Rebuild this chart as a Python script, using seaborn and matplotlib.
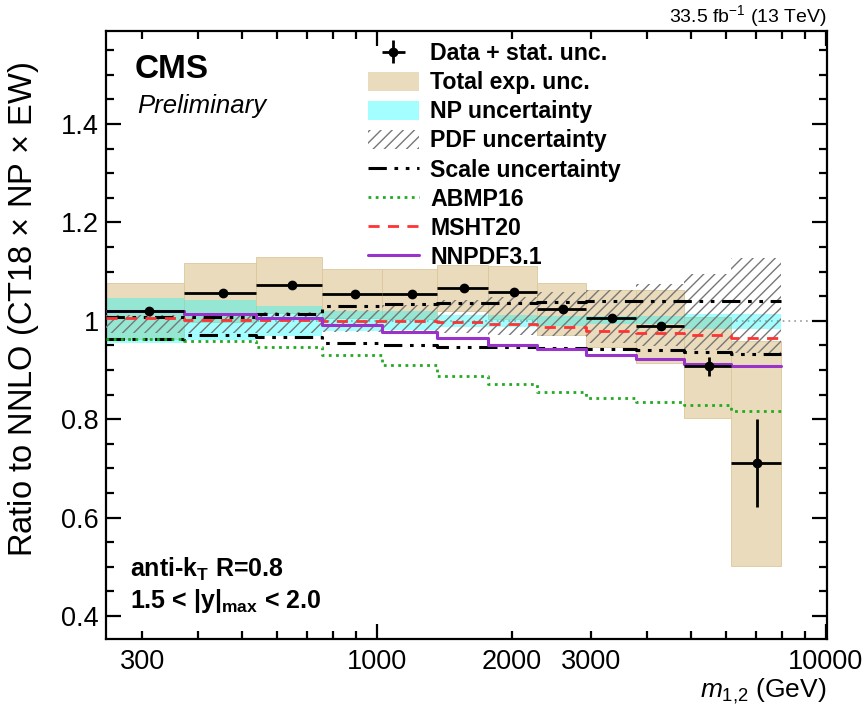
import numpy as np
import pandas as pd
import matplotlib
matplotlib.use("Agg")
import matplotlib.pyplot as plt
import seaborn as sns
from matplotlib.ticker import FixedLocator, FuncFormatter, MultipleLocator
from matplotlib.lines import Line2D
from matplotlib.patches import Patch

# ---------------- data ----------------
edges = [249, 372, 539, 756, 1029, 1361, 1769, 2273, 2920, 3770, 4830, 6150, 7940]
data = [1.020, 1.057, 1.072, 1.055, 1.054, 1.067, 1.058, 1.024, 1.005, 0.989, 0.907, 0.711]
stat = [0.003, 0.003, 0.004, 0.007, 0.008, 0.004, 0.004, 0.004, 0.005, 0.006, 0.020, 0.089]
tot_lo = [0.963, 0.997, 1.015, 1.005, 1.003, 1.020, 1.004, 0.971, 0.946, 0.915, 0.803, 0.501]
tot_hi = [1.077, 1.117, 1.129, 1.105, 1.105, 1.113, 1.111, 1.076, 1.062, 1.062, 1.008, 0.959]
np_lo = [0.954, 0.961, 0.969, 0.980, 0.981, 0.987, 0.988, 0.990, 0.993, 0.993, 0.983, 0.983]
np_hi = [1.047, 1.042, 1.030, 1.020, 1.020, 1.012, 1.012, 1.010, 1.010, 1.010, 1.014, 1.014]
pdf_lo = [0.975, 0.975, 0.975, 0.978, 0.978, 0.976, 0.972, 0.968, 0.955, 0.948, 0.940, 0.934]
pdf_hi = [1.012, 1.013, 1.018, 1.022, 1.033, 1.042, 1.049, 1.059, 1.063, 1.074, 1.095, 1.128]
scale_up = [1.008, 1.007, 1.014, 1.030, 1.035, 1.037, 1.037, 1.039, 1.041, 1.041, 1.041, 1.041]
scale_dn = [0.963, 0.972, 0.966, 0.955, 0.951, 0.947, 0.947, 0.944, 0.942, 0.9405, 0.936, 0.932]
abmp16 = [0.963, 0.959, 0.947, 0.930, 0.911, 0.888, 0.871, 0.855, 0.842, 0.834, 0.828, 0.8165]
msht20 = [1.006, 1.001, 1.001, 1.000, 1.000, 0.998, 0.993, 0.987, 0.980, 0.976, 0.972, 0.964]
nnpdf31 = [1.019, 1.014, 1.006, 0.991, 0.978, 0.964, 0.951, 0.942, 0.930, 0.922, 0.913, 0.9085]

x_major = [1000, 10000]
x_minor = [300, 400, 500, 600, 700, 800, 900, 2000, 3000, 4000, 5000, 6000, 7000, 8000, 9000]
x_minor_labels = {300: "300", 2000: "2000", 3000: "3000"}
y_ticks = [0.4, 0.6, 0.8, 1.0, 1.2, 1.4]
y_tick_labels = ["0.4", "0.6", "0.8", "1", "1.2", "1.4"]

# ---------------- style ----------------
sns.set_theme(style="ticks")
plt.rcParams["font.family"] = ["Liberation Sans", "DejaVu Sans"]
plt.rcParams["mathtext.fontset"] = "custom"
plt.rcParams["mathtext.rm"] = "Liberation Sans"
plt.rcParams["mathtext.it"] = "Liberation Sans:italic"
plt.rcParams["mathtext.bf"] = "Liberation Sans:bold"
plt.rcParams["hatch.linewidth"] = 1.0
for k in ("text.color", "axes.labelcolor", "xtick.color", "ytick.color", "axes.edgecolor"):
    plt.rcParams[k] = "black"

TAN = "#e9dbbb"
TAN_EDGE = "#dcc79b"
CYAN = "#00ffff"
GREEN = "#22aa22"
RED = "#ff3333"
PURPLE = "#9933cc"

fig = plt.figure(figsize=(8.68, 7.15), dpi=100)
ax = fig.add_axes([0.1218, 0.1063, 0.9525 - 0.1218, 0.9566 - 0.1063])

edges_a = np.array(edges, dtype=float)
lo_e = edges_a[:-1]
widths = np.diff(edges_a)
centers = (edges_a[:-1] + edges_a[1:]) / 2.0


def stepy(v):
    return np.append(np.asarray(v, dtype=float), v[-1])


# reference line at 1
ax.axhline(1.0, color="#999999", ls=(0, (1, 2.5)), lw=1.2, zorder=0.5)

# total experimental uncertainty
ax.bar(lo_e, np.array(tot_hi) - np.array(tot_lo), bottom=tot_lo, width=widths,
       align="edge", color=TAN, edgecolor=TAN_EDGE, linewidth=0.6, zorder=1)
# NP uncertainty
ax.bar(lo_e, np.array(np_hi) - np.array(np_lo), bottom=np_lo, width=widths,
       align="edge", color=CYAN, alpha=0.36, linewidth=0, zorder=2)
# PDF uncertainty (hatched)
ax.fill_between(edges_a, stepy(pdf_lo), stepy(pdf_hi), step="post",
                facecolor="none", edgecolor="#777777", hatch="///", linewidth=0, zorder=3)

scale_ls = (0, (6, 2.5, 1.2, 2.5, 1.2, 2.5))
for vals in (scale_up, scale_dn):
    sns.lineplot(x=edges_a, y=stepy(vals), drawstyle="steps-post", color="black",
                 linestyle=scale_ls, lw=2.2, estimator=None, sort=False, ax=ax, zorder=4)
sns.lineplot(x=edges_a, y=stepy(abmp16), drawstyle="steps-post", color=GREEN,
             linestyle=(0, (1, 1.6)), lw=2.0, estimator=None, sort=False, ax=ax, zorder=5)
sns.lineplot(x=edges_a, y=stepy(msht20), drawstyle="steps-post", color=RED,
             linestyle=(0, (4, 3)), lw=2.0, estimator=None, sort=False, ax=ax, zorder=6)
sns.lineplot(x=edges_a, y=stepy(nnpdf31), drawstyle="steps-post", color=PURPLE,
             linestyle="-", lw=2.2, estimator=None, sort=False, ax=ax, zorder=7)

eb = ax.errorbar(centers, data, xerr=widths / 2.0, yerr=stat, fmt="o", color="black",
                 ms=6, lw=2, capsize=0, zorder=10)

# ---------------- axes ----------------
ax.set_xscale("log")
ax.set_xlim(249, 10050)
ax.set_ylim(0.353, 1.589)

ax.xaxis.set_major_locator(FixedLocator(x_major))
ax.xaxis.set_minor_locator(FixedLocator(x_minor))
ax.xaxis.set_major_formatter(FuncFormatter(lambda v, p: f"{int(round(v))}"))
ax.xaxis.set_minor_formatter(FuncFormatter(lambda v, p: x_minor_labels.get(int(round(v)), "")))
ax.yaxis.set_major_locator(FixedLocator(y_ticks))
ax.set_yticklabels(y_tick_labels)
ax.yaxis.set_minor_locator(MultipleLocator(0.05))

for side in ax.spines.values():
    side.set_linewidth(1.6)
    side.set_color("black")
ax.tick_params(which="both", direction="in", top=True, right=True, color="black", width=1.6)
ax.tick_params(which="major", length=11, labelsize=19.5, pad=7)
ax.tick_params(which="minor", length=5.5, labelsize=19.5, pad=7)
ax.tick_params(axis="y", which="major", pad=5)

ax.set_ylabel(r"Ratio to NNLO (CT18 $\times$ NP $\times$ EW)", fontsize=23.5)
ax.yaxis.set_label_coords(-0.090, 0.542)
ax.set_xlabel(r"$m_{1{,}2}$ (GeV)", fontsize=19, ha="right")
ax.xaxis.set_label_coords(1.0, -0.062)

# ---------------- texts ----------------
ax.text(0.040, 0.962, "CMS", transform=ax.transAxes, fontsize=24, fontweight="bold", va="top")
ax.text(0.044, 0.897, "Preliminary", transform=ax.transAxes, fontsize=18.5, style="italic", va="top")
ax.text(0.034, 0.115, r"anti-k$_\mathbf{T}$ R=0.8", transform=ax.transAxes, fontsize=18,
        fontweight="bold", va="center")
ax.text(0.034, 0.062, r"1.5 < |y|$_\mathbf{max}$ < 2.0", transform=ax.transAxes, fontsize=18,
        fontweight="bold", va="center")
fig.text(0.953, 0.978, r"33.5 fb$^{-1}$ (13 TeV)", fontsize=14, ha="right", va="center")

# ---------------- legend ----------------
handles = [
    eb,
    Patch(facecolor=TAN, edgecolor="none"),
    Patch(facecolor=CYAN, alpha=0.36, edgecolor="none"),
    Patch(facecolor="none", edgecolor="#777777", hatch="///", linewidth=0),
    Line2D([], [], color="black", linestyle=scale_ls, lw=2.2),
    Line2D([], [], color=GREEN, linestyle=(0, (1, 1.6)), lw=2.0),
    Line2D([], [], color=RED, linestyle=(0, (4, 3)), lw=2.0),
    Line2D([], [], color=PURPLE, lw=2.2),
]
labels = ["Data + stat. unc.", "Total exp. unc.", "NP uncertainty", "PDF uncertainty",
          "Scale uncertainty", "ABMP16", "MSHT20", "NNPDF3.1"]
leg = ax.legend(handles, labels, loc="upper left", bbox_to_anchor=(0.341, 1.008),
                frameon=False, prop={"weight": "bold", "size": 16.7},
                handlelength=2.2, handleheight=0.85, handletextpad=0.5,
                labelspacing=0.26, borderaxespad=0.3)

fig.savefig("out.png", dpi=100)
